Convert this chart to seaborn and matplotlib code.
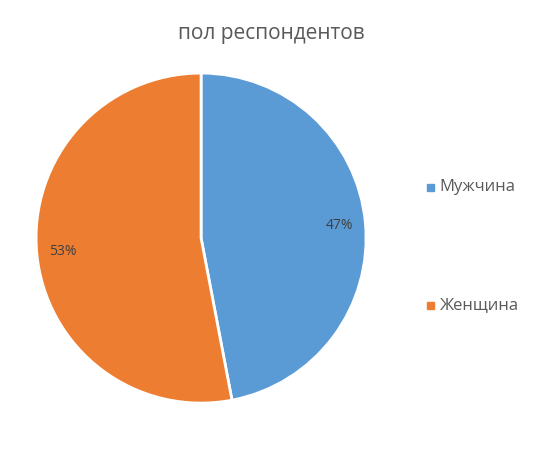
import matplotlib
matplotlib.use("Agg")
import matplotlib.pyplot as plt
import seaborn as sns

sns.set_theme(style="white")
plt.rcParams['font.family'] = ['Open Sans', 'DejaVu Sans']

categories = ["Мужчина", "Женщина"]
values = [47, 53]
colors = ["#5B9BD5", "#ED7D31"]

fig = plt.figure(figsize=(5.6, 4.5), dpi=100)
ax = fig.add_axes([0.359 - 0.2946, 0.471 - 0.3667, 0.5893, 0.7333])
total = sum(values)
wedges, texts, autotexts = ax.pie(values, colors=colors, startangle=90, counterclock=False,
                                  autopct=lambda p: f"{round(p * total / 100):d}%", pctdistance=0.84,
                                  wedgeprops=dict(edgecolor='white', linewidth=2),
                                  textprops=dict(color='#404040', fontsize=10))
ax.set_xlim(-1, 1)
ax.set_ylim(-1, 1)
ax.set_aspect('equal')
fig.text(0.485, 0.925, "пол респондентов", ha='center', va='center', fontsize=15, color='#595959')

for y, c, lab in [(0.587, colors[0], categories[0]), (0.324, colors[1], categories[1])]:
    fig.patches.append(plt.Rectangle((0.762, y - 0.011), 0.0125, 0.0156, color=c, transform=fig.transFigure))
    fig.text(0.785, y - 0.003, lab, ha='left', va='center', fontsize=12, color='#595959')

fig.savefig("out.png", dpi=100)
